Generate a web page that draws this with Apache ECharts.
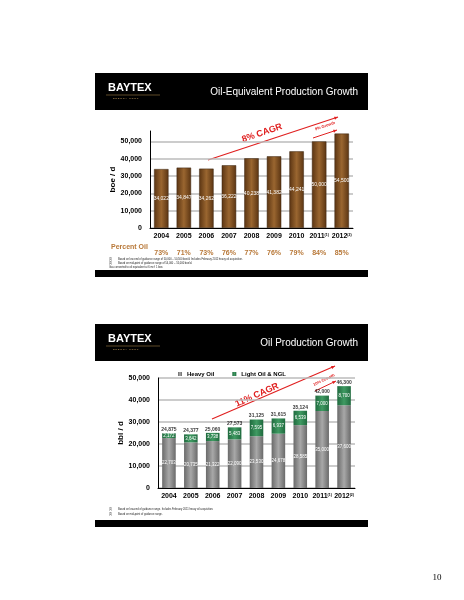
<!DOCTYPE html>
<html><head><meta charset="utf-8">
<script src="https://cdn.jsdelivr.net/npm/echarts@6/dist/echarts.min.js"></script>
<style>html,body{margin:0;background:#fff}#c{width:464px;height:600px}</style>
</head><body><div id="c"></div>
<script>
const years = ['2004','2005','2006','2007','2008','2009','2010','2011','2012'];
const boe = [34022,34847,34262,36222,40238,41382,44241,50000,54500];
const boeLabels = ['34,022','34,847','34,262','36,222','40,238','41,382','44,241','50,000','54,500'];
const pctOil = ['73%','71%','73%','76%','77%','76%','79%','84%','85%'];
const heavy = [22703,20735,21322,22090,23530,24678,28585,35000,37600];
const light = [2172,3642,3738,5483,7595,6937,6539,7000,8700];
const totals = ['24,875','24,377','25,060','27,573','31,125','31,615','35,124','42,000','46,300'];

const ch = echarts.init(document.getElementById('c'));
const F = 'Liberation Sans, Arial, sans-serif';
const fmt = v => v.toLocaleString('en-US');
const xLab = {interval:0,fontFamily:F,fontWeight:'bold',fontSize:7,color:'#000',margin:5,
  formatter:(v)=> v==='2011'?'2011{s|(1)}':v==='2012'?'2012{s|(2)}':v,
  rich:{s:{fontSize:3.5,verticalAlign:'top',color:'#000'}}};
const yLab = {fontFamily:F,fontWeight:'bold',fontSize:7,color:'#000',formatter:fmt,showMaxLabel:false};
function header(top, title){
  return [
    {type:'rect',shape:{x:95,y:top,width:273,height:37},style:{fill:'#000'}},
    {type:'text',x:108,y:top+9,style:{text:'BAYTEX',fill:'#fff',font:'bold 11px '+F}},
    {type:'line',shape:{x1:106,y1:top+22,x2:160,y2:top+22},style:{stroke:'#9a7a40',lineWidth:0.6}},
    {type:'text',x:113,y:top+24,style:{text:'E N E R G Y   C O R P',fill:'#c8a060',font:'2.5px '+F}},
    {type:'text',x:358,y:top+14,style:{text:title,fill:'#fff',font:'10px '+F,align:'right'}}
  ];
}
function arrow(x1,y1,x2,y2,w){
  const a=Math.atan2(y2-y1,x2-x1), L=4;
  return [{type:'line',shape:{x1,y1,x2,y2},style:{stroke:'#e02020',lineWidth:w}},
   {type:'polygon',shape:{points:[[x2,y2],[x2-L*Math.cos(a-0.4),y2-L*Math.sin(a-0.4)],[x2-L*Math.cos(a+0.4),y2-L*Math.sin(a+0.4)]]},style:{fill:'#e02020'}}];
}
const gfx = [].concat(
  header(73,'Oil-Equivalent Production Growth'),
  [{type:'rect',shape:{x:95,y:270,width:273,height:7},style:{fill:'#000'}}],
  header(324,'Oil Production Growth'),
  [{type:'rect',shape:{x:95,y:520,width:273,height:7},style:{fill:'#000'}}],
  arrow(208,160,338,117,1.2), arrow(313,138,337,130,1), arrow(212,419,335,366,1.2), arrow(315,391,336,381,1),
  [
   {type:'text',x:262,y:133,rotation:0.33,style:{text:'8% CAGR',fill:'#e02020',font:'bold 9px '+F,align:'center',verticalAlign:'middle'}},
   {type:'text',x:325,y:126,rotation:0.33,style:{text:'9% Growth',fill:'#e02020',font:'bold 4px '+F,align:'center',verticalAlign:'middle'}},
   {type:'text',x:257,y:395,rotation:0.42,style:{text:'11% CAGR',fill:'#e02020',font:'bold 9px '+F,align:'center',verticalAlign:'middle'}},
   {type:'text',x:324,y:380,rotation:0.45,style:{text:'10% Growth',fill:'#e02020',font:'bold 4px '+F,align:'center',verticalAlign:'middle'}},
   {type:'text',x:111,y:247,style:{text:'Percent Oil',fill:'#b87838',font:'bold 7px '+F,verticalAlign:'middle'}},
   {type:'text',x:109,y:258,style:{text:'(1)        Based on low end of guidance range of 50,000 – 50,500 boe/d. Includes February 2011 heavy oil acquisition.',fill:'#222',font:'2.6px '+F}},
   {type:'text',x:109,y:262,style:{text:'(2)        Based on mid-point of guidance range of 54,000 – 55,000 boe/d.',fill:'#222',font:'2.6px '+F}},
   {type:'text',x:109,y:266,style:{text:'Gas converted to oil equivalent at 6 mcf: 1 boe.',fill:'#222',font:'2.6px '+F}},
   {type:'text',x:109,y:508,style:{text:'(1)        Based on low-end of guidance range. Includes February 2011 heavy oil acquisition.',fill:'#222',font:'2.6px '+F}},
   {type:'text',x:109,y:513,style:{text:'(2)        Based on mid-point of guidance range.',fill:'#222',font:'2.6px '+F}},
   {type:'text',x:437,y:578,style:{text:'10',fill:'#000',font:'9px serif',align:'center',verticalAlign:'middle'}}
  ]
);
const opt = {
  animation:false,
  graphic:gfx,
  legend:{top:366,left:'center',itemWidth:4,itemHeight:4,itemGap:18,icon:'rect',
    textStyle:{fontFamily:F,fontWeight:'bold',fontSize:6,color:'#000'},data:['Heavy Oil','Light Oil & NGL']},
  grid:[{left:150,top:131,width:203,height:97},{left:158,top:378,width:197,height:110}],
  xAxis:[
    {gridIndex:0,type:'category',data:years,axisTick:{show:false},axisLine:{lineStyle:{color:'#000'}},axisLabel:xLab},
    {gridIndex:0,type:'category',data:pctOil,position:'bottom',offset:14,axisLine:{show:false},axisTick:{show:false},
      axisLabel:{interval:0,fontFamily:F,fontWeight:'bold',fontSize:7,color:'#b87838'}},
    {gridIndex:1,type:'category',data:years,axisTick:{show:false},axisLine:{lineStyle:{color:'#000'}},axisLabel:xLab}
  ],
  yAxis:[
    {gridIndex:0,type:'value',min:0,max:56000,interval:10000,name:'boe / d',nameLocation:'middle',nameGap:33,
     nameTextStyle:{fontFamily:F,fontWeight:'bold',fontSize:8,color:'#000'},axisLabel:yLab,
     axisLine:{show:true,lineStyle:{color:'#000'}},splitLine:{showMaxLine:false,lineStyle:{color:'#bbb',width:1.5}}},
    {gridIndex:1,type:'value',min:0,max:50000,interval:10000,name:'bbl / d',nameLocation:'middle',nameGap:33,
     nameTextStyle:{fontFamily:F,fontWeight:'bold',fontSize:8,color:'#000'},axisLabel:{fontFamily:F,fontWeight:'bold',fontSize:7,color:'#000',formatter:fmt},
     axisLine:{show:true,lineStyle:{color:'#000'}},splitLine:{lineStyle:{color:'#bbb',width:1.5}}}
  ],
  series:[
    {type:'bar',xAxisIndex:0,yAxisIndex:0,data:boe,barWidth:'64%',
     itemStyle:{borderColor:'#3a2410',borderWidth:0.5,color:new echarts.graphic.LinearGradient(0,0,1,0,[{offset:0,color:'#5a3412'},{offset:0.5,color:'#9a6630'},{offset:1,color:'#5a3412'}])},
     label:{show:true,position:'inside',formatter:p=>boeLabels[p.dataIndex],fontFamily:F,fontSize:5,color:'#fff'}},
    {name:'Heavy Oil',type:'bar',stack:'o',xAxisIndex:2,yAxisIndex:1,data:heavy,barWidth:'62%',
     itemStyle:{color:new echarts.graphic.LinearGradient(0,0,1,0,[{offset:0,color:'#6a6a6a'},{offset:0.5,color:'#a8a8a8'},{offset:1,color:'#6a6a6a'}])},
     label:{show:true,position:'inside',formatter:p=>fmt(p.value),fontFamily:F,fontSize:4.5,color:'#fff'}},
    {name:'Light Oil & NGL',type:'bar',stack:'o',xAxisIndex:2,yAxisIndex:1,data:light,
     itemStyle:{color:new echarts.graphic.LinearGradient(0,0,1,0,[{offset:0,color:'#1f6a3e'},{offset:0.5,color:'#3f9a62'},{offset:1,color:'#1f6a3e'}])},
     label:{show:true,position:'inside',formatter:p=>fmt(p.value),fontFamily:F,fontSize:4.5,color:'#fff'}},
    {type:'scatter',xAxisIndex:2,yAxisIndex:1,symbolSize:0,silent:true,
     data:heavy.map((h,i)=>h+light[i]),
     label:{show:true,position:'top',distance:1,formatter:p=>totals[p.dataIndex],fontFamily:F,fontWeight:'bold',fontSize:5,color:'#000'}}
  ]
};
ch.setOption(opt);
</script></body></html>
